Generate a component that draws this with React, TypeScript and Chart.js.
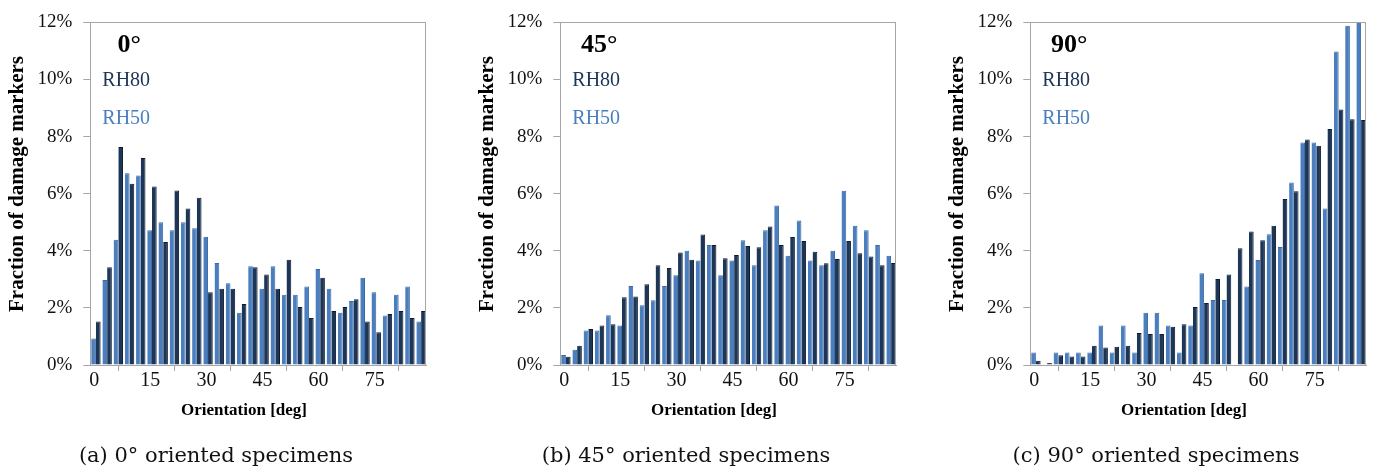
import React, { useEffect, useRef } from 'react';
import { Chart, registerables } from 'chart.js';

Chart.register(...registerables);

// Orientation bin centres [deg] (3° bins from 0 to 90)
const binCenters = [
  1.5, 4.5, 7.5, 10.5, 13.5, 16.5, 19.5, 22.5, 25.5, 28.5,
  31.5, 34.5, 37.5, 40.5, 43.5, 46.5, 49.5, 52.5, 55.5, 58.5,
  61.5, 64.5, 67.5, 70.5, 73.5, 76.5, 79.5, 82.5, 85.5, 88.5,
];

// (a) 0° oriented specimens — fraction of damage markers [%]
const rh50_0 = [0.93, 2.98, 4.39, 6.72, 6.64, 4.72, 5.0, 4.72, 5.0, 4.79, 4.49, 3.57, 2.86, 1.83, 3.46, 2.67, 3.46, 2.46, 2.46, 2.75, 3.36, 2.67, 1.83, 2.24, 3.06, 2.55, 1.73, 2.46, 2.75, 1.52];
const rh80_0 = [1.52, 3.42, 7.64, 6.35, 7.25, 6.25, 4.31, 6.11, 5.48, 5.86, 2.55, 2.67, 2.67, 2.14, 3.42, 3.17, 2.67, 3.69, 2.03, 1.65, 3.06, 1.89, 2.03, 2.3, 1.52, 1.15, 1.79, 1.89, 1.65, 1.89];

// (b) 45° oriented specimens
const rh50_45 = [0.35, 0.53, 1.21, 1.21, 1.74, 1.38, 2.77, 2.09, 2.27, 2.77, 3.14, 4.0, 3.66, 4.2, 3.14, 3.66, 4.37, 3.49, 4.72, 5.59, 3.83, 5.06, 3.66, 3.49, 4.0, 6.1, 4.88, 4.72, 4.2, 3.83];
const rh80_45 = [0.29, 0.67, 1.26, 1.38, 1.43, 2.37, 2.4, 2.83, 3.49, 3.4, 3.94, 3.69, 4.57, 4.2, 3.74, 3.85, 4.17, 4.12, 4.85, 4.2, 4.48, 4.34, 3.97, 3.56, 3.71, 4.34, 3.91, 3.8, 3.49, 3.57];

// (c) 90° oriented specimens
const rh50_90 = [0.44, 0, 0.44, 0.44, 0.44, 0.44, 1.38, 0.44, 1.38, 0.44, 1.83, 1.83, 1.38, 0.44, 1.38, 3.21, 2.28, 2.28, 0, 2.75, 3.68, 4.58, 4.13, 6.39, 7.79, 7.79, 5.48, 10.98, 11.88, 12.6];
const rh80_90 = [0.15, 0.07, 0.34, 0.3, 0.3, 0.67, 0.61, 0.64, 0.67, 1.12, 1.09, 1.09, 1.34, 1.43, 2.03, 2.17, 3.01, 3.17, 4.09, 4.68, 4.37, 4.88, 5.81, 6.09, 7.9, 7.68, 8.27, 8.95, 8.61, 8.58];

const panelTags = ['0°', '45°', '90°'];
const captions = ['(a) 0° oriented specimens', '(b) 45° oriented specimens', '(c) 90° oriented specimens'];
const seriesNames = ['RH50', 'RH80'];
const yTickMax = 12;
const yTickStep = 2;
const xTickStep = 15;
const xTitle = 'Orientation [deg]';
const yTitle = 'Fraction of damage markers';

const LIGHT = '#4a7ebf';
const DARK = '#1d3557';
const AXIS_GRAY = '#a6a6a6';
const SERIF = "'Liberation Serif', 'Times New Roman', serif";

const textPlugin = {
  id: 'panelTexts',
  afterDraw(chart: any, _args: any, opts: any) {
    const { ctx, chartArea: a } = chart;
    ctx.save();
    // box
    ctx.strokeStyle = AXIS_GRAY;
    ctx.lineWidth = 1;
    ctx.strokeRect(Math.round(a.left) + 0.5, Math.round(a.top) + 0.5, Math.round(a.right - a.left) - 1, Math.round(a.bottom - a.top));
    // tag
    ctx.fillStyle = '#000';
    ctx.textAlign = 'center';
    ctx.textBaseline = 'middle';
    ctx.font = `bold 26px ${SERIF}`;
    ctx.fillText(opts.tag, a.left + 39, 45);
    // series labels
    ctx.textAlign = 'left';
    ctx.font = `20px ${SERIF}`;
    ctx.fillStyle = DARK;
    ctx.fillText(seriesNames[1], a.left + 12, 81);
    ctx.fillStyle = LIGHT;
    ctx.fillText(seriesNames[0], a.left + 12, 119);
    // x title
    ctx.fillStyle = '#000';
    ctx.textAlign = 'center';
    ctx.font = `bold 17px ${SERIF}`;
    ctx.fillText(xTitle, 244, 411);
    // y title
    ctx.save();
    ctx.translate(18, 184);
    ctx.rotate(-Math.PI / 2);
    ctx.font = `bold 21px ${SERIF}`;
    ctx.fillText(yTitle, 0, 0);
    ctx.restore();
    // caption
    ctx.font = `21px 'DejaVu Serif', serif`;
    ctx.fillStyle = '#111';
    ctx.fillText(opts.caption, 216, 457);
    ctx.restore();
  },
};

function Panel({ idx, light, dark }: { idx: number; light: number[]; dark: number[] }) {
  const ref = useRef<HTMLCanvasElement | null>(null);
  useEffect(() => {
    if (!ref.current) return;
    const chart = new Chart(ref.current, {
      type: 'bar',
      data: {
        datasets: [
          {
            label: seriesNames[0],
            data: binCenters.map((x, i) => ({ x, y: light[i] })),
            backgroundColor: LIGHT,
            borderColor: '#3a6aa3',
            borderWidth: { top: 1, left: 0, right: 1, bottom: 0 },
            categoryPercentage: 0.84,
            barPercentage: 1,
          },
          {
            label: seriesNames[1],
            data: binCenters.map((x, i) => ({ x, y: dark[i] })),
            backgroundColor: DARK,
            borderColor: '#0d1a2c',
            borderWidth: { top: 1, left: 0, right: 1, bottom: 0 },
            categoryPercentage: 0.84,
            barPercentage: 1,
          },
        ],
      },
      options: {
        responsive: false,
        animation: false,
        layout: { padding: { top: 20, right: 17.3, bottom: 77, left: 0 } },
        plugins: {
          legend: { display: false },
          tooltip: { enabled: false },
          panelTexts: { tag: panelTags[idx], caption: captions[idx] },
        } as any,
        scales: {
          x: {
            type: 'linear',
            min: 0,
            max: 90,
            offset: false,
            grid: { display: true, drawOnChartArea: false, drawTicks: true, tickLength: 6, color: AXIS_GRAY },
            border: { display: true, color: AXIS_GRAY },
            ticks: {
              stepSize: xTickStep,
              autoSkip: false,
              maxRotation: 0,
              padding: 0,
              labelOffset: 4,
              color: '#111',
              font: { family: SERIF, size: 20, lineHeight: 1 },
              callback: (v: any) => (Number(v) >= 90 ? '' : String(v)),
            },
            afterFit: (s: any) => { s.height = 30; },
          },
          y: {
            min: 0,
            max: yTickMax,
            grid: { display: true, drawOnChartArea: false, drawTicks: true, tickLength: 7, color: AXIS_GRAY },
            border: { display: true, color: AXIS_GRAY },
            ticks: {
              stepSize: yTickStep,
              padding: 11,
              color: '#111',
              font: { family: SERIF, size: 19 },
              callback: (v: any) => `${v}%`,
            },
            afterFit: (s: any) => { s.width = 90.3; },
          },
        },
      },
      plugins: [textPlugin as any],
    } as any);
    return () => chart.destroy();
  }, [idx, light, dark]);
  return (
    <canvas
      ref={ref}
      width={444}
      height={472}
      style={{ position: 'absolute', left: idx * 470, top: 0, width: 444, height: 472 }}
    />
  );
}

export default function App() {
  return (
    <div style={{ position: 'absolute', left: 0, top: 0, width: 1384, height: 472, overflow: 'hidden', background: '#fff' }}>
      <Panel idx={0} light={rh50_0} dark={rh80_0} />
      <Panel idx={1} light={rh50_45} dark={rh80_45} />
      <Panel idx={2} light={rh50_90} dark={rh80_90} />
    </div>
  );
}
